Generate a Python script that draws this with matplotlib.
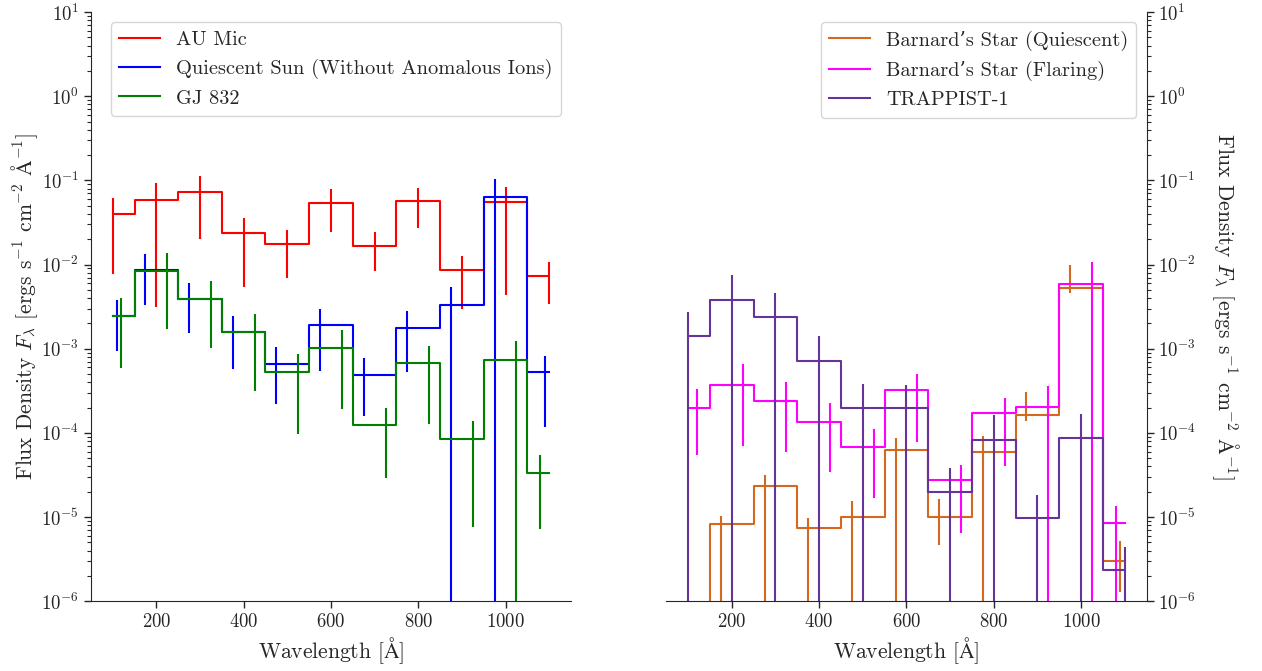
import numpy as np
import matplotlib
matplotlib.use("Agg")
import matplotlib.pyplot as plt

plt.rcParams['font.family'] = ['cmr10', 'DejaVu Serif']
plt.rcParams['mathtext.fontset'] = 'cm'
plt.rcParams['axes.formatter.use_mathtext'] = True
plt.rcParams['axes.unicode_minus'] = False
for k in ['axes.edgecolor', 'xtick.color', 'ytick.color', 'text.color', 'axes.labelcolor']:
    plt.rcParams[k] = '0.15'

BOTTOM = 1e-8  # error bars extending below the plot

# Wavelength grid (step centres)
wave = [100, 200, 300, 400, 500, 600, 700, 800, 900, 1000, 1100]

# ---- Left panel ----
au_mic = [0.040, 0.058, 0.0726, 0.0236, 0.0175, 0.0537, 0.0167, 0.0567, 0.00867, 0.0557, 0.00735]
au_mic_ex = [100, 200, 300, 400, 500, 600, 700, 800, 900, 1000, 1100]
au_mic_hi = [0.061, 0.092, 0.112, 0.036, 0.026, 0.078, 0.0243, 0.0817, 0.0127, 0.0824, 0.0106]
au_mic_lo = [0.0078, 0.0031, 0.0199, 0.0054, 0.0069, 0.0245, 0.0084, 0.0271, 0.0030, 0.0043, 0.0034]

sun = [0.00244, 0.0086, 0.00395, 0.00156, 0.000667, 0.0019, 0.000489, 0.00177, 0.00332, 0.0627, 0.000526]
sun_ex = [110, 175, 275, 375, 475, 575, 675, 775, 875, 975, 1090]
sun_hi = [0.00378, 0.0134, 0.00612, 0.00244, 0.00105, 0.0030, 0.00077, 0.0028, 0.0054, 0.105, 0.00083]
sun_lo = [0.000944, 0.0033, 0.00152, 0.000577, 0.000221, 0.00054, 0.000158, 0.00053, BOTTOM, BOTTOM, 0.000116]

gj832 = [0.00245, 0.00835, 0.0039, 0.00159, 0.000526, 0.00102, 0.000124, 0.000673, 0.0000857, 0.000738, 0.0000338]
gj832_ex = [120, 225, 325, 425, 525, 625, 725, 825, 925, 1025, 1080]
gj832_hi = [0.00406, 0.0136, 0.0064, 0.00258, 0.00086, 0.00166, 0.0002, 0.00109, 0.00014, 0.00122, 0.0000543]
gj832_lo = [0.00059, 0.00172, 0.00102, 0.000318, 0.0000966, 0.00019, 0.000029, 0.000126, 0.0000076, BOTTOM, 0.0000072]

# ---- Right panel ----
bq = [1e-7, 8.3e-6, 2.31e-5, 7.4e-6, 1.01e-5, 6.18e-5, 9.96e-6, 6.0e-5, 0.000165, 0.00525, 3.0e-6]
bq_ex = [110, 175, 275, 375, 475, 575, 675, 775, 875, 975, 1090]
bq_hi = [2e-7, 1.03e-5, 3.2e-5, 9.8e-6, 1.57e-5, 8.7e-5, 1.63e-5, 9.2e-5, 0.000308, 0.00984, 5.2e-6]
bq_lo = [BOTTOM, BOTTOM, BOTTOM, BOTTOM, BOTTOM, BOTTOM, 4.6e-6, BOTTOM, 0.00014, 0.00457, 1.3e-6]

bf = [0.000198, 0.000372, 0.000238, 0.000134, 6.76e-5, 0.000319, 2.72e-5, 0.00017, 0.000204, 0.0059, 8.6e-6]
bf_ex = [120, 225, 325, 425, 525, 625, 725, 825, 925, 1025, 1080]
bf_hi = [0.000328, 0.000656, 0.000404, 0.000225, 0.00011, 0.000502, 4.1e-5, 0.000263, 0.000362, 0.0106, 1.35e-5]
bf_lo = [5.5e-5, 7.0e-5, 5.9e-5, 3.4e-5, 1.7e-5, 7.8e-5, 6.5e-6, 4.0e-5, BOTTOM, BOTTOM, BOTTOM]

trap = [0.00142, 0.00381, 0.00235, 0.000718, 0.000198, 0.000195, 1.99e-5, 8.26e-5, 9.86e-6, 8.73e-5, 2.36e-6]
trap_ex = [100, 200, 300, 400, 500, 600, 700, 800, 900, 1000, 1100]
trap_hi = [0.00274, 0.0075, 0.0046, 0.0014, 0.000376, 0.00037, 3.78e-5, 0.000161, 1.85e-5, 0.000167, 4.4e-6]
trap_lo = [BOTTOM] * 11

left_series = [
    ("AU Mic", "red", au_mic, au_mic_ex, au_mic_lo, au_mic_hi),
    ("Quiescent Sun (Without Anomalous Ions)", "blue", sun, sun_ex, sun_lo, sun_hi),
    ("GJ 832", "green", gj832, gj832_ex, gj832_lo, gj832_hi),
]
right_series = [
    ("Barnard\u2019s Star (Quiescent)", "#D2691E", bq, bq_ex, bq_lo, bq_hi),
    ("Barnard\u2019s Star (Flaring)", "#FF00FF", bf, bf_ex, bf_lo, bf_hi),
    ("TRAPPIST-1", "#663399", trap, trap_ex, trap_lo, trap_hi),
]

fig = plt.figure(figsize=(12.62, 6.71), dpi=100)
axL = fig.add_axes([0.072, 0.104, 0.3805, 0.878])
axR = fig.add_axes([0.528, 0.104, 0.3805, 0.878])

ylabel = r'Flux Density $F_\lambda$ [ergs s$^{-1}$ cm$^{-2}$ $\mathrm{\AA}^{-1}$]'
xlabel = r'Wavelength [$\mathrm{\AA}$]'

for ax, series in [(axL, left_series), (axR, right_series)]:
    for name, col, vals, ex, lo, hi in series:
        ax.step(wave, vals, where='mid', color=col, lw=1.5, label=name)
        ax.vlines(ex, lo, hi, color=col, lw=1.5)
    ax.set_yscale('log')
    ax.set_ylim(1e-6, 1e1)
    ax.set_xlim(50, 1150)
    ax.set_xticks([200, 400, 600, 800, 1000])
    ax.tick_params(labelsize=13.5, which='major', length=5, width=1)
    ax.tick_params(which='minor', length=3, width=0.8)
    ax.spines['top'].set_visible(False)
    ax.set_xlabel(xlabel, fontsize=15.5, labelpad=3)

axL.spines['right'].set_visible(False)
axL.set_ylabel(ylabel, fontsize=15.5, labelpad=1)
axL.legend(loc='upper left', fontsize=14.7, bbox_to_anchor=(0.02, 1.0))

axR.spines['left'].set_visible(False)
axR.yaxis.tick_right()
axR.yaxis.set_label_position('right')
axR.set_ylabel(ylabel, fontsize=15.5, rotation=270, labelpad=32)
axR.legend(loc='upper right', fontsize=14.7, bbox_to_anchor=(1.0, 1.0))

fig.savefig('out.png', dpi=100)
